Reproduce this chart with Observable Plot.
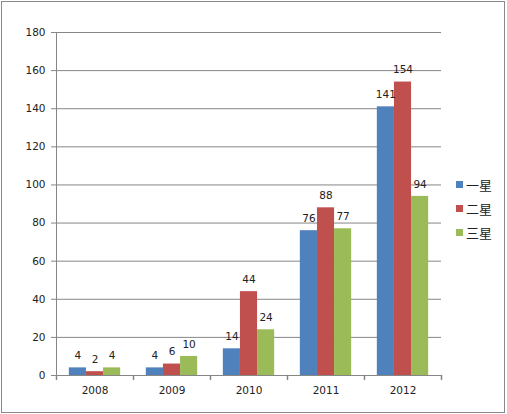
<!DOCTYPE html>
<html><head><meta charset="utf-8">
<script src="https://cdn.jsdelivr.net/npm/d3@7"></script>
<script src="https://cdn.jsdelivr.net/npm/@observablehq/plot@0.6"></script>
<style>
html,body{margin:0;padding:0;background:#fff;}
#wrap{position:relative;width:507px;height:414px;overflow:hidden;}
#border{position:absolute;left:1px;top:1px;width:504px;height:412px;border:1px solid #8a8a8a;box-sizing:border-box;pointer-events:none;}
#chart{position:absolute;left:0;top:0;}
#legend{position:absolute;left:456px;top:172px;font-size:13px;font-family:"Noto Sans CJK SC",sans-serif;color:#222;}
.row{height:24px;display:flex;align-items:center;}
.sw{width:7px;height:7px;margin-right:3px;}
</style></head>
<body><div id="wrap"><div id="chart"></div><div id="border"></div><div id="legend"></div></div>
<script>
const years = ["2008","2009","2010","2011","2012"];
const series = ["一星","二星","三星"];
const colors = ["#4F81BD","#C0504D","#9BBB59"];
const oneStar = [4,4,14,76,141];
const twoStar = [2,6,44,88,154];
const threeStar = [4,10,24,77,94];
const yTicks = [0,20,40,60,80,100,120,140,160,180];

const seriesValues = [oneStar, twoStar, threeStar];
const data = years.flatMap((yr,i)=>series.map((s,j)=>({year:yr, series:s, value:seriesValues[j][i]})));

const tickShape = {draw(context, l){ context.moveTo(0,0); context.lineTo(0,-l); }};
const axisColor = "#868686";

const chart = Plot.plot({
  width:507, height:414,
  marginLeft:55, marginRight:65, marginTop:32, marginBottom:39,
  style:{fontFamily:'"DejaVu Sans", sans-serif', fontSize:"10.5px", color:"#222", background:"transparent"},
  fx:{domain:years, padding:0, label:null},
  x:{domain:series, paddingInner:0, paddingOuter:0.75, axis:null, round:false},
  y:{domain:[0,180]},
  color:{domain:series, range:colors},
  marks:[
    Plot.gridY(yTicks,{stroke:axisColor, strokeOpacity:1}),
    Plot.axisY(yTicks,{tickSize:5, tickPadding:6, stroke:axisColor, fill:"#222", label:null}),
    Plot.axisFx({anchor:"bottom", tickSize:0, tickPadding:11, label:null, fill:"#222"}),
    Plot.barY(data,{fx:"year", x:"series", y:"value", fill:"series"}),
    Plot.text(data,{fx:"year", x:"series", y:"value", text:"value", dy:-12, fill:"#222"}),
    Plot.ruleY([0],{stroke:axisColor}),
    Plot.frame({anchor:"left", stroke:axisColor, facetAnchor:"left"}),
    Plot.vector(years,{fx:d=>d, frameAnchor:"bottom-left", length:4, rotate:180, anchor:"start", stroke:axisColor, shape:tickShape}),
    Plot.vector(years.slice(-1),{fx:d=>d, frameAnchor:"bottom-right", length:4, rotate:180, anchor:"start", stroke:axisColor, shape:tickShape})
  ]
});
document.getElementById("chart").appendChild(chart);

const legend = document.getElementById("legend");
series.forEach((s,i)=>{
  const row = document.createElement("div"); row.className="row";
  const sw = document.createElement("span"); sw.className="sw"; sw.style.background=colors[i];
  const t = document.createElement("span"); t.textContent=s;
  row.appendChild(sw); row.appendChild(t); legend.appendChild(row);
});
</script>
</body></html>
